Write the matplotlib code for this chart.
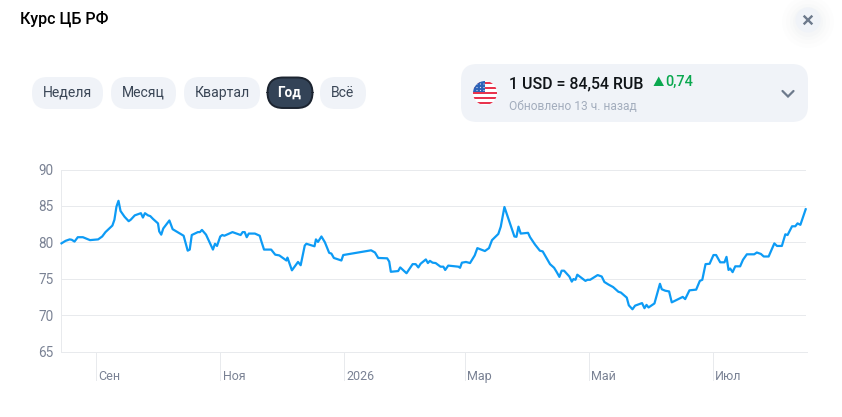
import datetime as dt
import matplotlib
matplotlib.use("Agg")
import matplotlib.pyplot as plt
import matplotlib.dates as mdates
from matplotlib.patches import FancyBboxPatch, Circle, Rectangle, Polygon

plt.rcParams['font.family'] = ['Roboto', 'DejaVu Sans']

START = dt.datetime(2025, 8, 15)
days = [0,2,4,5,6.4,8,10.5,14,18,20,21.6,25,26,27,28,29,31,33,34,36,39,40,41,42.5,43.6,45,47.4,48,49,50,53,54.6,56.4,60,61,62,63,64,67,68,69,71,74.4,75.4,76.4,78,79,80,84,86,88,89,90,91,92,95,97.4,98,99.5,103,105,107,110.5,111,113.2,116.2,117.5,119.5,120.3,124.3,125,126,127.7,129.4,131.5,132.6,133.8,137.5,138.4,152.1,154,155.6,160,161,161.8,165.4,166.4,169.5,172.5,174,175.3,176.4,179,180,181,182.3,183.8,186.2,187.6,188.5,190,195,195.8,196.7,198.7,200.7,203,204.3,208,210,211.5,214.6,215.8,217.6,221.2,222.5,223.5,224.5,225.6,229.2,230.2,232.6,235,236.4,240,242,243.3,244.6,245.7,246.9,249.5,250.7,251.5,252.5,253.4,257.4,258.4,259.7,263.4,265.4,266.7,268.7,271,273.6,274.8,277.7,278.7,280.5,281.8,285.2,286.4,287.4,288.4,291.3,294,294.9,296.6,298.5,299.8,305.2,306.4,308.5,311.8,313.6,314.8,316.4,318.4,320.3,321.6,323.6,325.7,326.7,327.7,328.5,329.7,331,333.4,334.8,336.7,340.3,341.6,343.6,345,347.4,350.2,351.5,353.9,355.6,356.7,358.9,360.5,361.6,363,365.6]
rates = [79.86,80.2,80.4,80.35,80.1,80.7,80.7,80.3,80.4,80.8,81.4,82.3,83.1,84.9,85.7,84.3,83.5,82.9,83.1,83.7,84.0,83.4,84.0,83.7,83.6,83.2,82.6,81.5,81.05,81.9,83.0,81.8,81.5,80.9,79.9,78.85,79.0,81.0,81.4,81.4,81.7,81.05,79.0,79.8,79.5,80.8,81.0,80.9,81.4,81.2,81.0,81.4,81.4,80.7,81.2,81.2,80.9,80.3,79.0,79.0,78.3,78.2,77.5,77.9,76.15,77.3,76.85,79.55,79.8,79.45,80.4,80.05,80.8,80.0,78.55,78.45,77.85,77.5,78.25,78.9,78.6,77.85,77.8,77.35,75.95,76.05,76.55,75.75,77.0,77.0,76.55,77.05,77.65,77.15,77.45,77.2,77.15,76.65,76.65,76.2,76.8,76.65,76.5,77.2,77.3,77.15,78.2,79.2,78.8,79.2,80.3,81.15,82.15,84.85,81.9,80.8,80.75,82.15,81.2,81.3,80.7,79.7,78.85,78.75,77.0,76.5,75.9,75.25,76.1,76.1,75.3,74.6,74.95,74.85,75.55,74.7,74.85,74.85,75.5,75.3,74.55,74.2,73.85,73.2,73.1,72.4,71.35,70.8,71.3,71.65,70.95,71.4,71.05,71.6,74.3,73.55,73.35,73.25,71.75,72.5,72.2,73.4,73.5,74.7,74.85,77.0,77.05,78.25,78.25,77.25,77.25,78.0,76.2,76.4,75.9,76.7,76.7,77.6,78.35,78.35,78.6,78.4,78.05,78.05,79.85,79.5,79.5,81.1,81.0,82.2,82.2,82.6,82.4,84.54]
y_ticks = [65, 70, 75, 80, 85, 90]
month_ticks = [dt.datetime(2025,9,1), dt.datetime(2025,11,1), dt.datetime(2026,1,1), dt.datetime(2026,3,1), dt.datetime(2026,5,1), dt.datetime(2026,7,1)]
month_labels = ["Сен", "Ноя", "2026", "Мар", "Май", "Июл"]
periods = ["Неделя", "Месяц", "Квартал", "Год", "Всё"]

W, H = 842, 417
fig = plt.figure(figsize=(W/100, H/100), dpi=100, facecolor="white")

# overlay in pixel coordinates for the page furniture
ui = fig.add_axes([0, 0, 1, 1], zorder=0)
ui.set_xlim(0, W); ui.set_ylim(H, 0); ui.axis("off")
def px(v): return v * 0.72

def pill(x0, x1, y0, y1, r, fc, ec="none", lw=0, z=1):
    ui.add_patch(FancyBboxPatch((x0+r, y0+r), x1-x0-2*r, y1-y0-2*r,
                 boxstyle=f"round,pad={r},rounding_size={r}", fc=fc, ec=ec, lw=lw, zorder=z))

PILL = "#f0f3f8"
ui.text(20, 19, "Курс ЦБ РФ", fontsize=px(16), fontweight="medium", color="#000000", va="center", ha="left")

spans = [(32,103),(111,176),(184,260),(267.5,312.5),(320,366)]
for name, (a, b) in zip(periods, spans):
    active = name == "Год"
    pill(a, b, 77.5 if active else 77, 108 if active else 109, 15.5,
         "#334357" if active else PILL, "#1c2430" if active else "none", 1.4 if active else 0)
    ui.text((a+b)/2 - (0.5 if active else 0), 92.5, name, fontsize=px(13.5 if active else 14),
            fontweight="bold" if active else "normal",
            color="#ffffff" if active else "#3a4656", ha="center", va="center")

# rate card
pill(461, 808, 64, 122, 16, PILL)
cx, cy, r = 485, 93, 12
clip = Circle((cx, cy), r, transform=ui.transData)
ui.add_patch(Rectangle((cx-r, cy-r), 2*r, 2*r, fc="#ffffff", ec="none", zorder=2, clip_path=clip))
for sy in (83, 88, 93, 98, 103):
    ui.add_patch(Rectangle((cx-r, sy-1.2), 2*r, 2.4, fc="#e8344e", ec="none", zorder=3, clip_path=clip))
ui.add_patch(Rectangle((cx-r, cy-r), 12, 11, fc="#2c62b8", ec="none", zorder=4, clip_path=clip))
for sx in (477, 480.5, 484):
    for sy in (84, 87.5, 90.5):
        ui.add_patch(Circle((sx, sy), 0.6, fc="#dfe7f5", ec="none", zorder=5, clip_path=clip))
ui.text(509, 83.5, "1 USD = 84,54 RUB", fontsize=px(15.9), fontweight="medium", color="#101418", va="center")
ui.add_patch(Polygon([(653.5, 86), (664, 86), (658.7, 76.5)], closed=True, fc="#0aa84f", ec="none", zorder=3))
ui.text(665.5, 81.5, "0,74", fontsize=px(14.5), fontweight="medium", color="#0aa84f", va="center")
ui.text(509, 106, "Обновлено 13 ч. назад", fontsize=px(12), color="#a3adbd", va="center")
ui.plot([782.5, 788, 793.5], [91, 96.5, 91], color="#6d7a8c", lw=1.6, solid_capstyle="round", solid_joinstyle="miter")

# close button
for rad, a in zip((26, 22, 18, 15), (0.01, 0.012, 0.015, 0.02)):
    ui.add_patch(Circle((808, 22), rad, fc="#7a88a0", ec="none", alpha=a, zorder=1))
ui.add_patch(Circle((808, 20), 12.5, fc=PILL, ec="none", zorder=2))
ui.plot([804.5, 811.5], [16.5, 23.5], color="#6d7a8c", lw=1.7, zorder=3)
ui.plot([804.5, 811.5], [23.5, 16.5], color="#6d7a8c", lw=1.7, zorder=3)

# chart
L, R, T, B = 61.5, 806.5, 169.5, 351.5
ax = fig.add_axes([L/W, 1-B/H, (R-L)/W, (B-T)/H], zorder=2)
ax.patch.set_alpha(0)
dates = [START + dt.timedelta(days=d) for d in days]
GRID = "#e8eaed"
ax.set_ylim(65, 90)
ax.set_xlim(START, START + dt.timedelta(days=366))
ax.set_yticks(y_ticks)
ax.set_xticks(month_ticks)
ax.set_xticklabels([])
ax.grid(axis="y", color=GRID, lw=0.72)
ax.set_axisbelow(True)
for s in ("top", "right"):
    ax.spines[s].set_visible(False)
for s in ("left", "bottom"):
    ax.spines[s].set_color(GRID); ax.spines[s].set_linewidth(0.72)
ax.tick_params(axis="y", length=0, labelsize=px(13.5), labelcolor="#7a8294", pad=5.5)
ax.tick_params(axis="x", length=0)
ax.plot(dates, rates, color="#0d9bf5", lw=1.6, solid_joinstyle="round", clip_on=False, zorder=3)

tick_len = (380 - B) / (B - T)
xtrans = ax.get_xaxis_transform()
for m, lab in zip(month_ticks, month_labels):
    mn = mdates.date2num(m)
    ax.plot([mn, mn], [0, -tick_len], transform=xtrans, color=GRID, lw=0.72, clip_on=False)
    ax.annotate(lab, xy=(mn, 0), xycoords=xtrans, xytext=(1.8, -18), textcoords="offset points",
                fontsize=px(12.5), color="#7a8294", ha="left", va="center")

fig.savefig("out.png", dpi=100)
